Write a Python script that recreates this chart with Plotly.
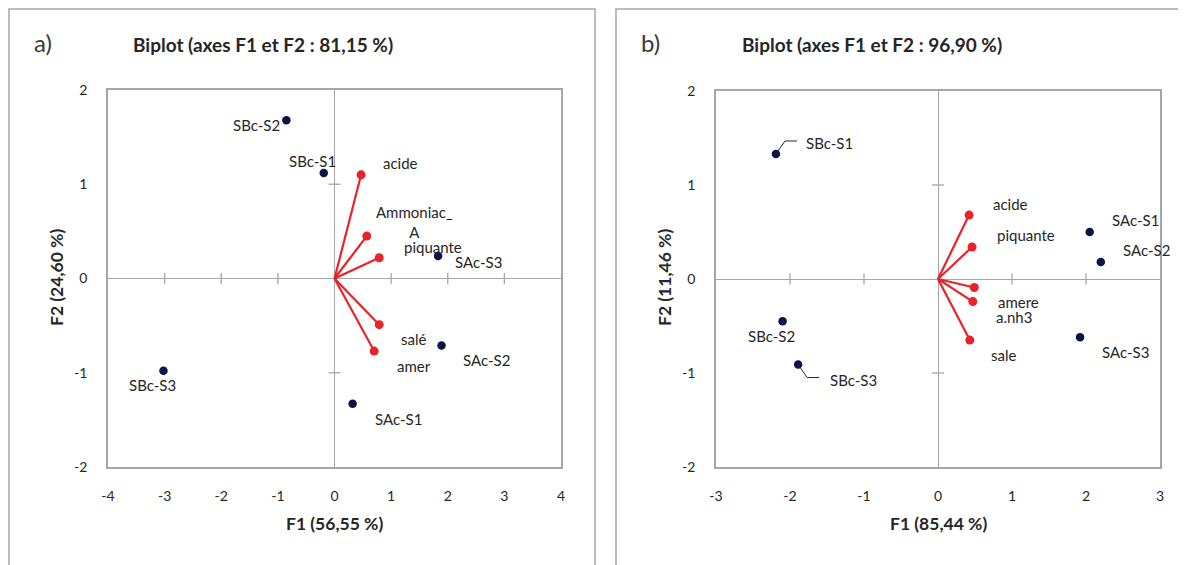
import plotly.graph_objects as go

# ---------------- data ----------------
# Panel a)
a_obs_names = ["SBc-S1", "SBc-S2", "SBc-S3", "SAc-S1", "SAc-S2", "SAc-S3"]
a_obs_f1 = [-0.19, -0.85, -3.02, 0.32, 1.89, 1.83]
a_obs_f2 = [1.12, 1.68, -0.98, -1.33, -0.71, 0.24]
a_var_names = ["acide", "Ammoniac_<br>A", "piquante", "salé", "amer"]
a_var_f1 = [0.47, 0.57, 0.79, 0.79, 0.70]
a_var_f2 = [1.10, 0.45, 0.22, -0.49, -0.77]

# Panel b)
b_obs_names = ["SBc-S1", "SBc-S2", "SBc-S3", "SAc-S1", "SAc-S2", "SAc-S3"]
b_obs_f1 = [-2.19, -2.10, -1.89, 2.05, 2.20, 1.92]
b_obs_f2 = [1.33, -0.45, -0.91, 0.50, 0.18, -0.62]
b_var_names = ["acide", "piquante", "amere", "a.nh3", "sale"]
b_var_f1 = [0.42, 0.46, 0.49, 0.47, 0.43]
b_var_f2 = [0.68, 0.34, -0.09, -0.24, -0.65]

a_xticks = [-4, -3, -2, -1, 0, 1, 2, 3, 4]
b_xticks = [-3, -2, -1, 0, 1, 2, 3]
yticks = [-2, -1, 0, 1, 2]

# label offsets in pixels (dx, dy up)
a_obs_off = [(-11, 12), (-30, -5), (-11, -14), (46, -15), (45, -15), (40, -6)]
a_var_off = [(39, 12), (48, 14), (54, 11), (34, -14), (40, -15)]
b_obs_off = [(54, 11), (-11, -15), (55, -15), (46, 12), (46, 12), (45, -15)]
b_var_off = [(41, 11), (54, 12), (44, -15), (41, -15), (34, -15)]

W, H = 1186, 565
OX, OY = 8, 8  # page body margin compensation
FONT = "Lato, Open Sans, sans-serif"
TFONT = "Lato, Open Sans, sans-serif"
NAVY = "#0b1446"
RED = "#e8232a"
GRAY = "#a6a6a6"
TXT = "#262626"


def px(x):
    return (x - OX) / W


def py(y):
    return 1 - (y - OY) / H


panels = [
    dict(x0=108, x1=561, y0=90, y1=467, xr=[-4, 4], xt=a_xticks,
         on=a_obs_names, ox=a_obs_f1, oy=a_obs_f2, oo=a_obs_off,
         vn=a_var_names, vx=a_var_f1, vy=a_var_f2, vo=a_var_off,
         title="Biplot (axes F1 et F2 : 81,15 %)", tx=263,
         xt_title="F1 (56,55 %)", yt_title="F2 (24,60 %)", ytx=56,
         letter="a)", lx=43, box=(9, 595)),
    dict(x0=716, x1=1160, y0=91, y1=467, xr=[-3, 3], xt=b_xticks,
         on=b_obs_names, ox=b_obs_f1, oy=b_obs_f2, oo=b_obs_off,
         vn=b_var_names, vx=b_var_f1, vy=b_var_f2, vo=b_var_off,
         title="Biplot (axes F1 et F2 : 96,90 %)", tx=872,
         xt_title="F1 (85,44 %)", yt_title="F2 (11,46 %)", ytx=664,
         letter="b)", lx=650, box=(616, 1200)),
]

fig = go.Figure()
annotations = []
shapes = []
layout_axes = {}

for i, p in enumerate(panels):
    sfx = "" if i == 0 else str(i + 1)
    xa, ya = "x" + sfx, "y" + sfx
    xr, yr = p["xr"], [-2, 2]
    pxw = (p["x1"] - p["x0"]) / (xr[1] - xr[0])
    pyh = (p["y1"] - p["y0"]) / (yr[1] - yr[0])

    common = dict(showgrid=False, zeroline=True, zerolinecolor=GRAY, zerolinewidth=1.3,
                  showline=True, mirror=True, linecolor=GRAY, linewidth=1.5,
                  ticks="", automargin=False, fixedrange=True,
                  tickfont=dict(family=FONT, size=14, color=TXT))
    layout_axes["xaxis" + sfx] = dict(
        domain=[px(p["x0"]), px(p["x1"])], range=xr, anchor=ya,
        tickvals=p["xt"], ticktext=[str(v) for v in p["xt"]],
        ticklabelstandoff=15, **common)
    layout_axes["yaxis" + sfx] = dict(
        domain=[py(p["y1"]), py(p["y0"])], range=yr, anchor=xa,
        tickvals=yticks, ticktext=[str(v) for v in yticks],
        ticklabelstandoff=16, **common)

    # tick marks crossing the zero lines
    tx_, ty_ = [], []
    hy = 5.5 / pyh
    for v in p["xt"]:
        if v in (0, xr[0], xr[1]):
            continue
        tx_ += [v, v, None]
        ty_ += [-hy, hy, None]
    hx = 6 / pxw
    for v in yticks:
        if v in (0, yr[0], yr[1]):
            continue
        tx_ += [-hx, hx, None]
        ty_ += [v, v, None]
    fig.add_trace(go.Scatter(x=tx_, y=ty_, mode="lines", xaxis=xa, yaxis=ya,
                             line=dict(color=GRAY, width=1.3),
                             hoverinfo="skip", showlegend=False))

    # variable vectors
    vx_, vy_ = [], []
    for x, y in zip(p["vx"], p["vy"]):
        vx_ += [0, x, None]
        vy_ += [0, y, None]
    fig.add_trace(go.Scatter(x=vx_, y=vy_, mode="lines", xaxis=xa, yaxis=ya,
                             line=dict(color=RED, width=2.2),
                             hoverinfo="skip", showlegend=False))
    fig.add_trace(go.Scatter(x=p["vx"], y=p["vy"], mode="markers", xaxis=xa, yaxis=ya,
                             marker=dict(color=RED, size=9),
                             showlegend=False))
    # observations
    fig.add_trace(go.Scatter(x=p["ox"], y=p["oy"], mode="markers", xaxis=xa, yaxis=ya,
                             marker=dict(color=NAVY, size=8.5),
                             showlegend=False))

    for names, xs, ys, offs in ((p["on"], p["ox"], p["oy"], p["oo"]),
                               (p["vn"], p["vx"], p["vy"], p["vo"])):
        for n, x, y, (dx, dy) in zip(names, xs, ys, offs):
            annotations.append(dict(x=x, y=y, xref=xa, yref=ya, text=n,
                                    showarrow=False, xshift=dx, yshift=dy,
                                    xanchor="center", yanchor="middle",
                                    font=dict(family=FONT, size=15, color=TXT),
                                    align="center"))

    # titles
    annotations.append(dict(x=px(p["tx"]), y=py(44), xref="paper", yref="paper",
                            xanchor="center", yanchor="middle",
                            text="<b>" + p["title"] + "</b>", showarrow=False,
                            font=dict(family=TFONT, size=19, color=TXT)))
    annotations.append(dict(x=px((p["x0"] + p["x1"]) / 2), y=py(523),
                            xref="paper", yref="paper",
                            xanchor="center", yanchor="middle",
                            text="<b>" + p["xt_title"] + "</b>", showarrow=False,
                            font=dict(family=TFONT, size=17.5, color=TXT)))
    annotations.append(dict(x=px(p["ytx"]), y=py(278),
                            xref="paper", yref="paper", textangle=-90,
                            xanchor="center", yanchor="middle",
                            text="<b>" + p["yt_title"] + "</b>", showarrow=False,
                            font=dict(family=TFONT, size=17.5, color=TXT)))
    annotations.append(dict(x=px(p["lx"]), y=py(42), xref="paper", yref="paper",
                            xanchor="center", yanchor="middle",
                            text=p["letter"], showarrow=False,
                            font=dict(family=TFONT, size=24, color="#3a3a3a")))
    # panel frame
    bx0, bx1 = p["box"]
    shapes.append(dict(type="rect", xref="paper", yref="paper",
                       x0=px(bx0), x1=px(bx1), y0=-0.05, y1=py(9),
                       line=dict(color=GRAY, width=1.5), layer="below"))

# leader lines (panel b) from points to their labels
lead_idx = [0, 2]
lx_, ly_ = [], []
pb = panels[1]
pxw_b = (pb["x1"] - pb["x0"]) / 6
pyh_b = (pb["y1"] - pb["y0"]) / 4
for k in lead_idx:
    x, y = b_obs_f1[k], b_obs_f2[k]
    sgn = 1 if b_obs_off[k][1] > 0 else -1
    bend = (x + 9 / pxw_b, y + sgn * 13 / pyh_b)
    end = (x + 21 / pxw_b, bend[1])
    lx_ += [x, bend[0], end[0], None]
    ly_ += [y, bend[1], end[1], None]
fig.add_trace(go.Scatter(x=lx_, y=ly_, mode="lines", xaxis="x2", yaxis="y2",
                         line=dict(color=TXT, width=1),
                         hoverinfo="skip", showlegend=False))

fig.update_layout(width=W, height=H, margin=dict(l=0, r=0, t=0, b=0, autoexpand=False),
                  paper_bgcolor="white", plot_bgcolor="white", template="none",
                  annotations=annotations, shapes=shapes, **layout_axes)
fig.write_html("out.html")
